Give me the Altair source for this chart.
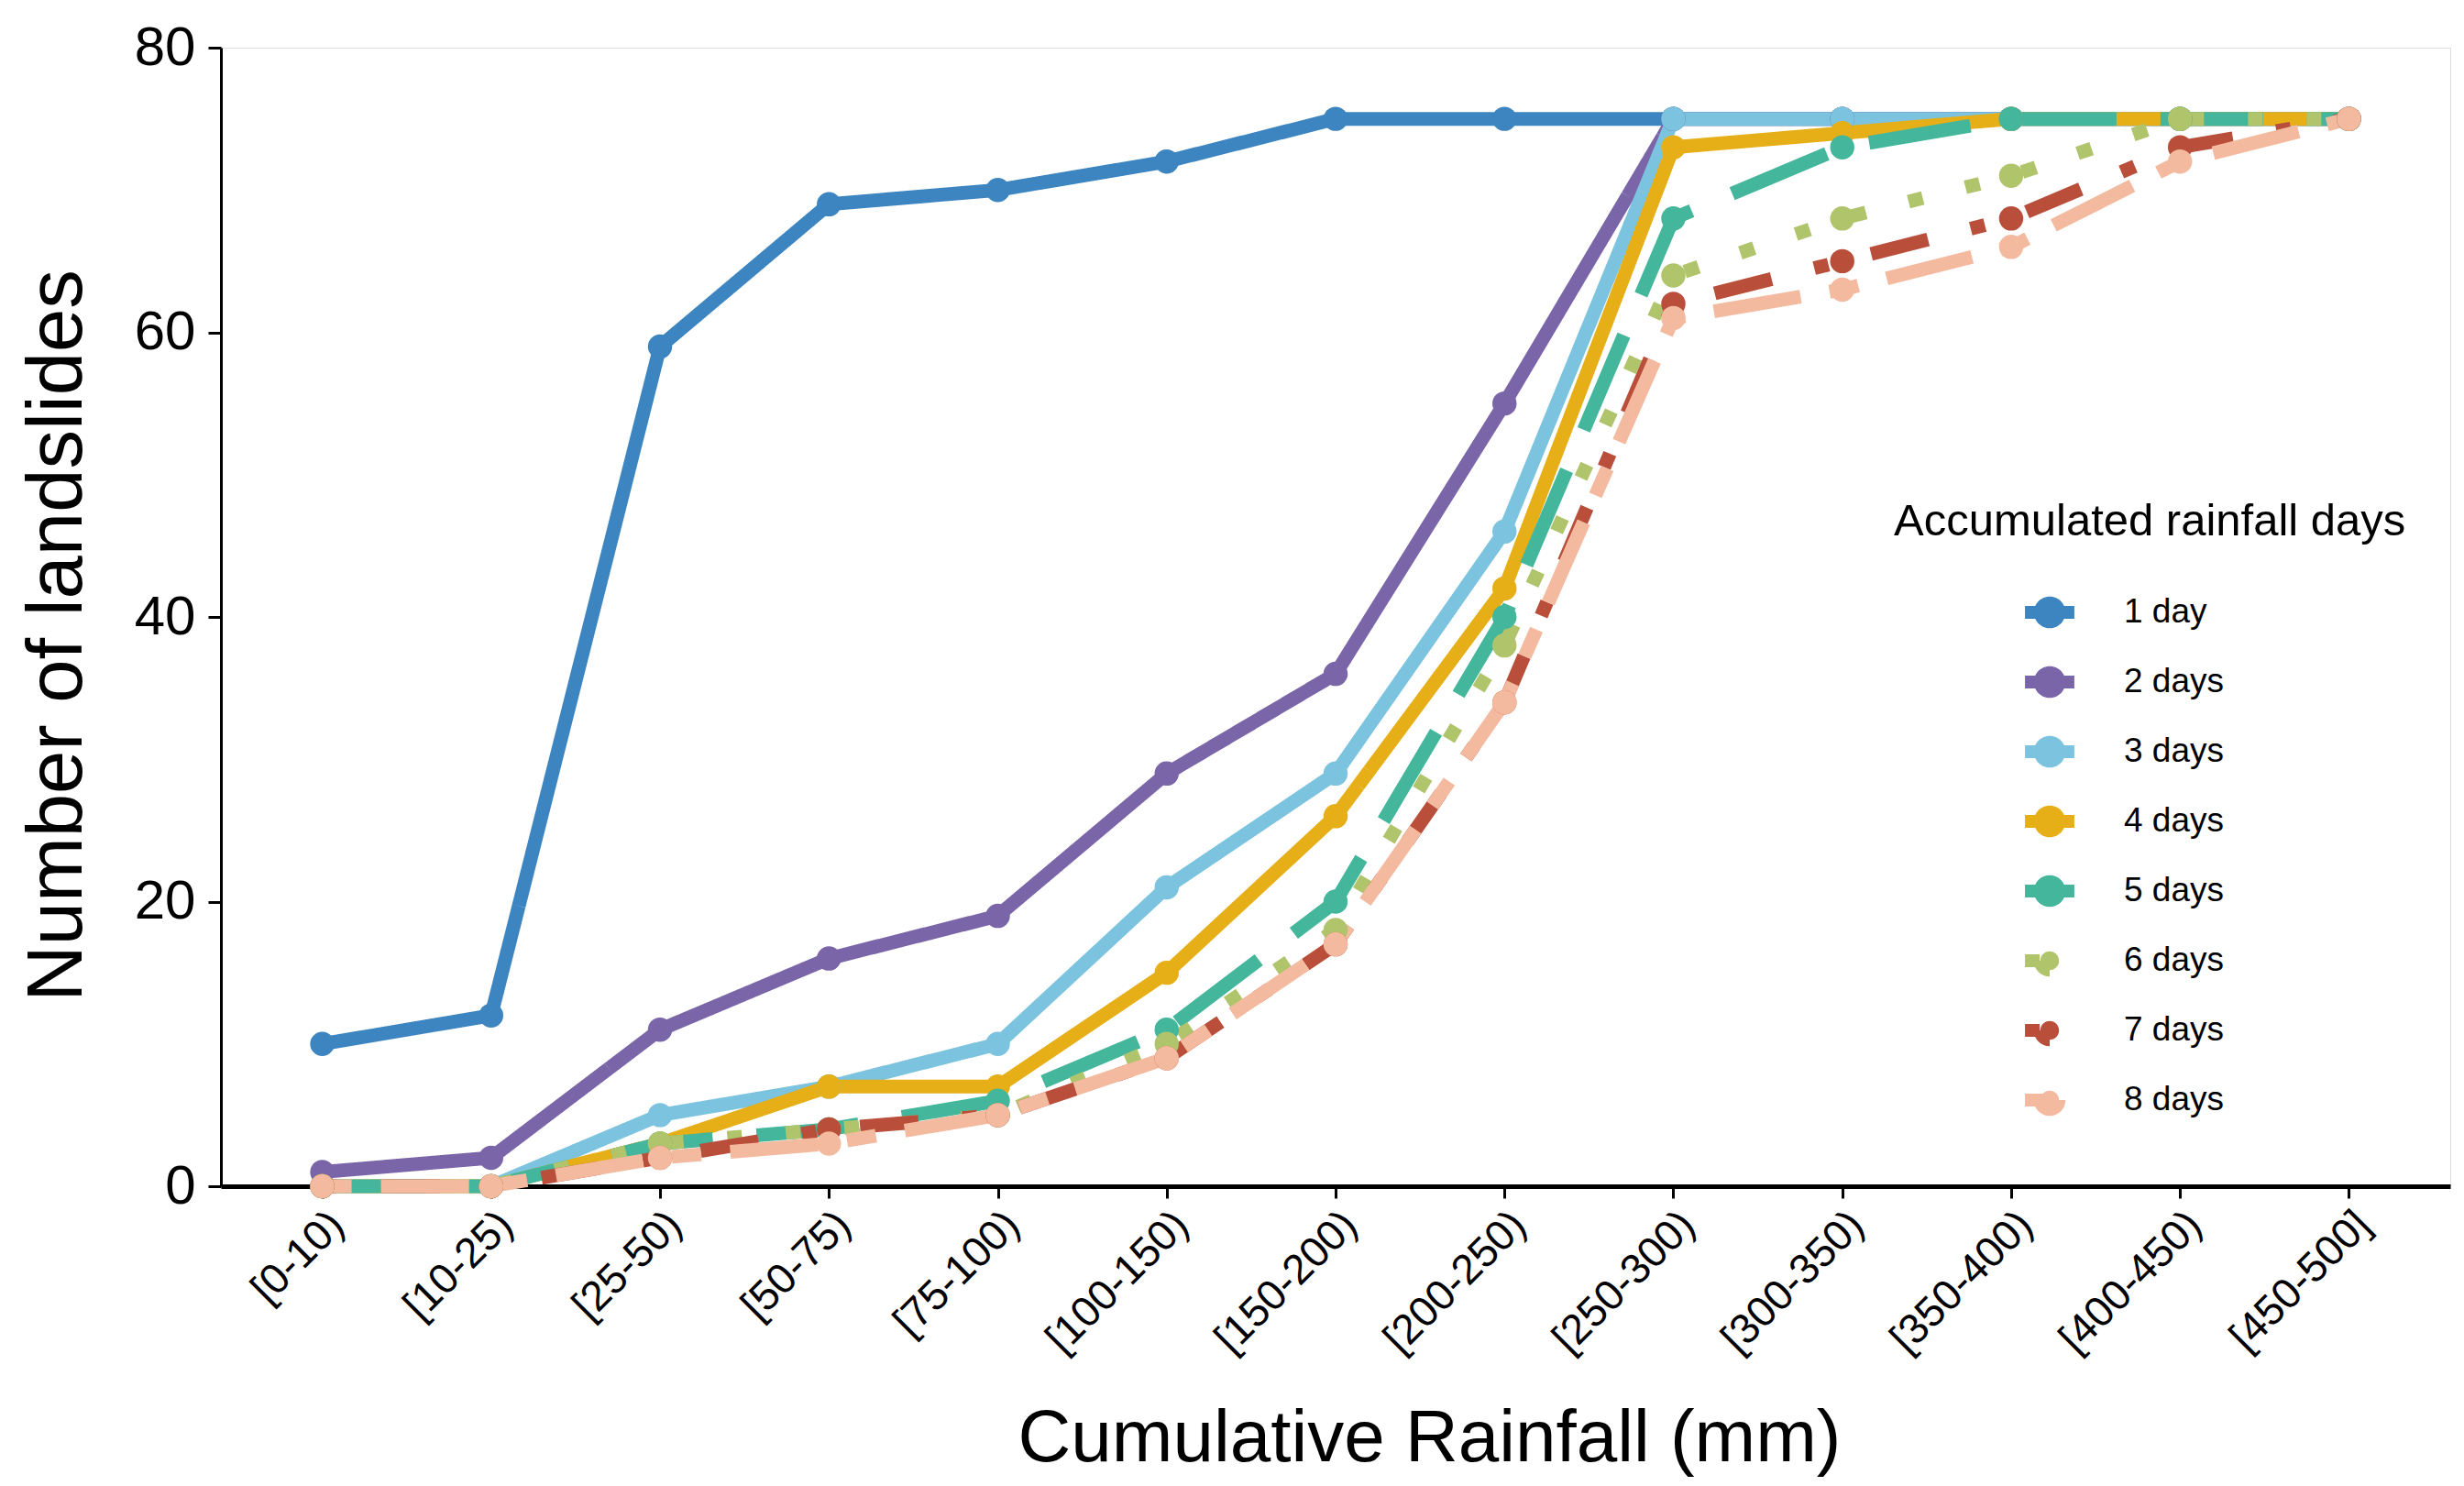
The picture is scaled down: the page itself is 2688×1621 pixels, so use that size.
import altair as alt
import pandas as pd

categories = ["[0-10)", "[10-25)", "[25-50)", "[50-75)", "[75-100)", "[100-150)",
              "[150-200)", "[200-250)", "[250-300)", "[300-350)", "[350-400)",
              "[400-450)", "[450-500]"]

series_names = ["1 day", "2 days", "3 days", "4 days", "5 days", "6 days", "7 days", "8 days"]

day1 = [10, 12, 59, 69, 70, 72, 75, 75, 75, 75, 75, 75, 75]
day2 = [1, 2, 11, 16, 19, 29, 36, 55, 75, 75, 75, 75, 75]
day3 = [0, 0, 5, 7, 10, 21, 29, 46, 75, 75, 75, 75, 75]
day4 = [0, 0, 3, 7, 7, 15, 26, 42, 73, 74, 75, 75, 75]
day5 = [0, 0, 3, 4, 6, 11, 20, 40, 68, 73, 75, 75, 75]
day6 = [0, 0, 3, 4, 5, 10, 18, 38, 64, 68, 71, 75, 75]
day7 = [0, 0, 2, 4, 5, 9, 17, 34, 62, 65, 68, 73, 75]
day8 = [0, 0, 2, 3, 5, 9, 17, 34, 61, 63, 66, 72, 75]

colors = ["#3D85C0", "#7A65A8", "#7BC3DE", "#E6AE17", "#43B69B", "#B0C46C", "#B94F3A", "#F4BA9F"]
dashes = [[1, 0], [1, 0], [1, 0], [1, 0], [112, 48], [16, 48], [16, 48, 64, 48], [32, 32, 96, 32]]

all_series = [day1, day2, day3, day4, day5, day6, day7, day8]
rows = []
for name, vals in zip(series_names, all_series):
    for i, (cat, v) in enumerate(zip(categories, vals)):
        rows.append({"Rainfall": cat, "idx": i, "Landslides": v, "Days": name})
df = pd.DataFrame(rows)

FONT = "Liberation Sans"
W, H = 2432, 1242

x_enc = alt.X("Rainfall:N", sort=categories, scale=alt.Scale(padding=0.6),
              axis=alt.Axis(title="Cumulative Rainfall (mm)", labelAngle=315,
                            labelAlign="right", labelBaseline="top", labelPadding=6,
                            labelFontSize=46, labelFont=FONT, labelColor="black",
                            labelLimit=0,
                            titleFontSize=80, titleFont=FONT, titleFontWeight="normal",
                            titleColor="black", titleX=1318, titleY=299,
                            titleBaseline="alphabetic", titleAlign="center",
                            domainColor="black", domainWidth=5, tickColor="black",
                            tickWidth=3, tickSize=13, grid=False))
y_enc = alt.Y("Landslides:Q", scale=alt.Scale(domain=[0, 80], nice=False, zero=True),
              axis=alt.Axis(title="Number of landslides", values=[0, 20, 40, 60, 80],
                            labelFontSize=60, labelFont=FONT, labelColor="black",
                            labelPadding=14, titleFontSize=85, titleFont=FONT,
                            titleFontWeight="normal", titleColor="black",
                            titleAngle=270, titleX=-153, titleY=641,
                            titleBaseline="alphabetic", titleAlign="center",
                            domainColor="black", domainWidth=3, tickColor="black",
                            tickWidth=3, tickSize=14, grid=False))

symbol_path = ("M-1,0L1,0M-0.38,0A0.38,0.38,0,1,0,0.38,0A0.38,0.38,0,1,0,-0.38,0Z")

legend = alt.Legend(title="Accumulated rainfall days", orient="none",
                    legendX=1825, legendY=493, titleFontSize=49, titleFont=FONT,
                    titleFontWeight="normal", titleColor="black", titlePadding=40,
                    titleLimit=0,
                    labelFontSize=37, labelFont=FONT, labelColor="black",
                    labelOffset=47, labelLimit=0, symbolType=symbol_path, symbolSize=2900,
                    symbolStrokeWidth=14, symbolOffset=136, rowPadding=-2,
                    padding=0)

color_enc = alt.Color("Days:N", sort=series_names,
                      scale=alt.Scale(domain=series_names, range=colors), legend=legend)
dash_enc = alt.StrokeDash("Days:N", sort=series_names,
                          scale=alt.Scale(domain=series_names, range=dashes), legend=legend)

lines = alt.Chart(df).mark_line(strokeWidth=15, strokeJoin="round", strokeCap="butt").encode(
    x=x_enc, y=y_enc, color=color_enc, strokeDash=dash_enc,
    order=alt.Order("idx:Q"))

points = alt.Chart(df).mark_point(filled=True, size=700, opacity=1, shape="circle").encode(
    x=x_enc, y=y_enc, color=color_enc)

chart = alt.layer(lines, points).properties(
    width=W, height=H,
    autosize=alt.AutoSizeParams(type="none"),
    padding={"left": 233, "top": 44, "right": 7, "bottom": 319},
    background="white",
).configure_view(stroke=None).configure(font=FONT)

chart.save("out.html", embed_options={"renderer": "svg", "actions": False})
